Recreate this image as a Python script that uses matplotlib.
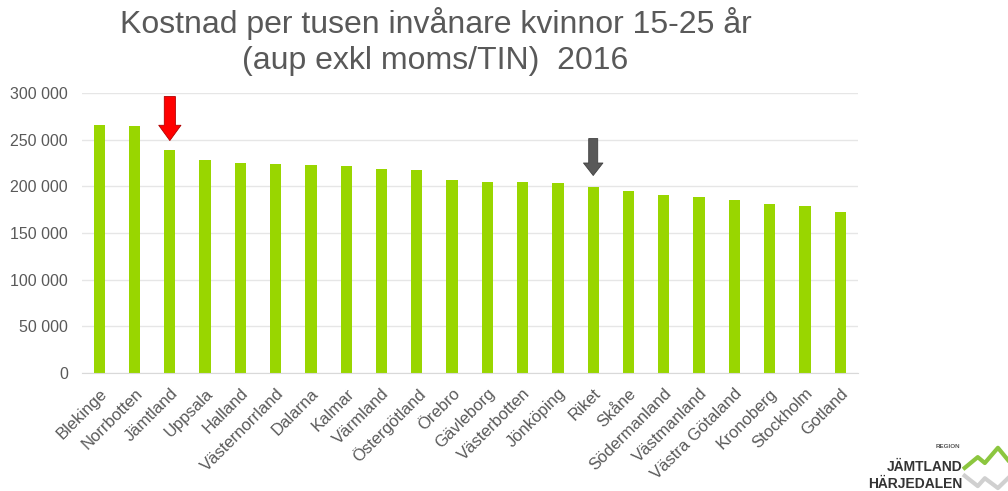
import numpy as np
import matplotlib.pyplot as plt
from matplotlib.lines import Line2D

plt.rcParams['font.family'] = ['Liberation Sans', 'DejaVu Sans']

# Data
regions = ['Blekinge', 'Norrbotten', 'Jämtland', 'Uppsala', 'Halland', 'Västernorrland',
           'Dalarna', 'Kalmar', 'Värmland', 'Östergötland', 'Örebro', 'Gävleborg',
           'Västerbotten', 'Jönköping', 'Riket', 'Skåne', 'Södermanland', 'Västmanland',
           'Västra Götaland', 'Kronoberg', 'Stockholm', 'Gotland']
cost = [265300, 264200, 238900, 228200, 225300, 224300, 223200, 221400, 218200, 217100,
        207100, 204200, 204300, 203200, 199000, 194400, 190800, 189000, 185500, 180800,
        178400, 172700]
yticks = [0, 50000, 100000, 150000, 200000, 250000, 300000]

green = '#99d600'
txt = '#595959'

fig = plt.figure(figsize=(10.08, 4.91), dpi=100)
ax = fig.add_axes([0.081, 0.240, 0.770, 0.571])

x = np.arange(len(regions))
ax.bar(x, cost, width=0.32, color=green, zorder=2)

ax.set_xlim(-0.5, len(regions) - 0.5)
ax.set_ylim(0, 300000)
ax.set_yticks(yticks)
ax.set_yticklabels([f'{v:,}'.replace(',', ' ') for v in yticks], fontsize=11.5, color=txt)
ax.yaxis.grid(True, color='#e6e6e6', lw=1, zorder=0)
ax.tick_params(axis='y', length=0, pad=10)
ax.tick_params(axis='x', length=0, pad=9)
ax.set_xticks(x)
ax.set_xticklabels(regions, rotation=45, ha='right', rotation_mode='anchor',
                   fontsize=12, color=txt)
for s in ['top', 'right', 'left']:
    ax.spines[s].set_visible(False)
ax.spines['bottom'].set_color('#d9d9d9')

# Arrows for Jämtland and Riket
i_j = regions.index('Jämtland')
i_r = regions.index('Riket')
ax.annotate('', xy=(i_j, cost[i_j] + 10000), xytext=(i_j, 296000),
            arrowprops=dict(arrowstyle='simple,head_length=1.1,head_width=1.6,tail_width=0.8',
                            fc='#ff0000', ec='#b00000', lw=0.6, shrinkA=0, shrinkB=0))
ax.annotate('', xy=(i_r, cost[i_r] + 12500), xytext=(i_r, 251000),
            arrowprops=dict(arrowstyle='simple,head_length=0.9,head_width=1.4,tail_width=0.65',
                            fc='#595959', ec='#404040', lw=0.6, shrinkA=0, shrinkB=0))

# Title
fig.text(0.432, 0.953, 'Kostnad per tusen invånare kvinnor 15-25 år',
         ha='center', va='center', fontsize=23, color=txt)
fig.text(0.432, 0.876, '(aup exkl moms/TIN)  2016',
         ha='center', va='center', fontsize=23, color=txt)

# Logo
fig.text(0.953, 0.090, 'REGION', ha='right', va='center', fontsize=4.5,
         color='#555555', fontweight='bold')
fig.text(0.955, 0.049, 'JÄMTLAND', ha='right', va='center', fontsize=10,
         color='#333333', fontweight='bold')
fig.text(0.955, 0.014, 'HÄRJEDALEN', ha='right', va='center', fontsize=10,
         color='#333333', fontweight='bold')
fig.add_artist(Line2D([0.957, 0.970, 0.977, 0.990, 1.0], [0.047, 0.069, 0.057, 0.088, 0.063],
                      transform=fig.transFigure, color='#8cc63f', lw=3))
fig.add_artist(Line2D([0.957, 0.970, 0.977, 0.990, 1.0], [0.031, 0.010, 0.026, 0.006, 0.026],
                      transform=fig.transFigure, color='#d0d0d0', lw=3))

fig.savefig('out.png', dpi=100, facecolor='white')
